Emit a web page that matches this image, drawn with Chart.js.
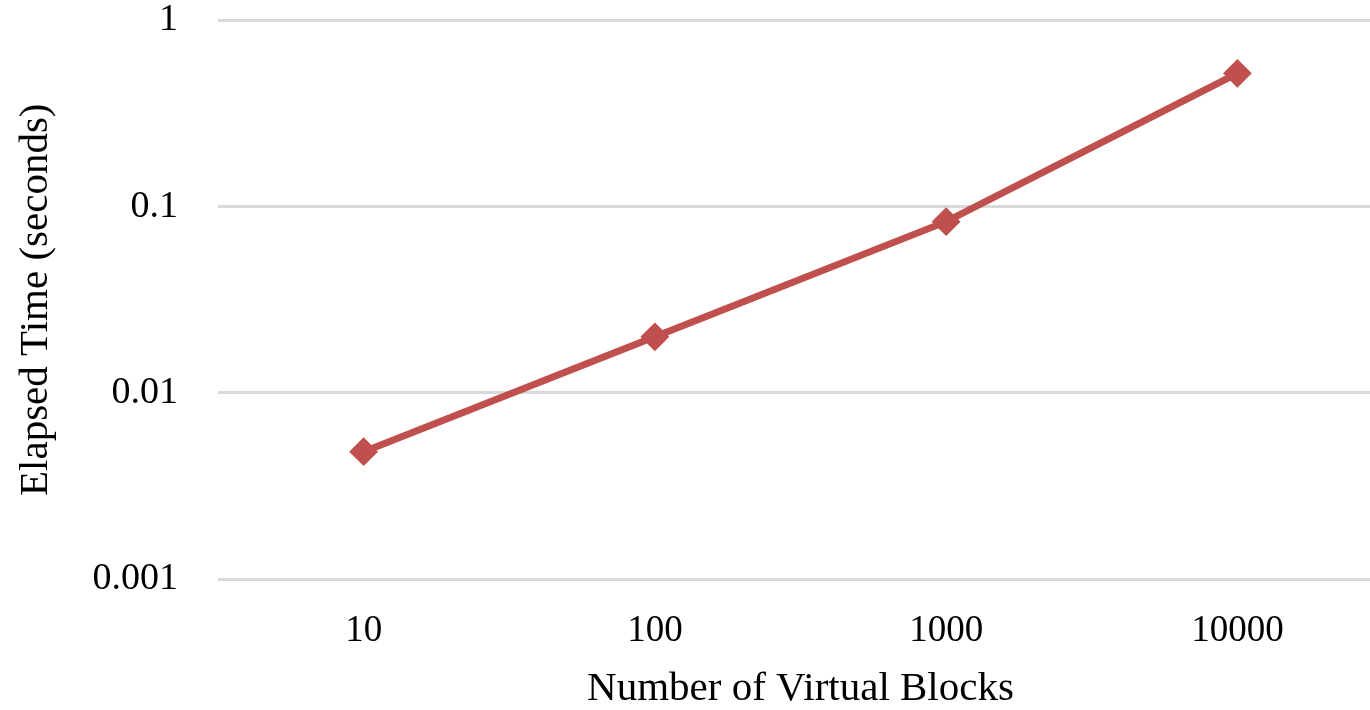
<!DOCTYPE html>
<html>
<head>
  <title>Elapsed Time vs Virtual Blocks</title>
  <script src="https://cdn.jsdelivr.net/npm/chart.js"></script>
  <style>
    html, body { margin: 0; padding: 0; background: #fff; }
    #wrap { width: 1370px; height: 710px; }
  </style>
</head>
<body>
  <div id="wrap"><canvas id="myChart"></canvas></div>
  <script>
    // data
    const blocks = ['10', '100', '1000', '10000'];
    const elapsed = [0.00483, 0.0200, 0.0831, 0.520];
    const yTicks = [0.001, 0.01, 0.1, 1];

    const lineColor = '#C0504D';
    const fontFamily = '"Liberation Serif", "Times New Roman", serif';

    // the original plot runs a little past the right edge of the picture
    const plotTop = 20.5;
    const plotRight = 1383;

    const fixArea = {
      id: 'fixArea',
      afterLayout(chart) {
        const area = chart.chartArea;
        const xs = chart.scales.x;
        const ys = chart.scales.y;
        area.top = plotTop;
        area.right = plotRight;
        area.width = area.right - area.left;
        area.height = area.bottom - area.top;
        xs.right = area.right;
        xs.width = xs.right - xs.left;
        xs.configure();
        ys.top = area.top;
        ys.height = ys.bottom - ys.top;
        ys.configure();
      }
    };

    var ctx = document.getElementById('myChart').getContext('2d');

    var myChart = new Chart(ctx, {
      type: 'line',
      data: {
        labels: blocks,
        datasets: [{
          label: 'Elapsed Time',
          data: elapsed,
          borderColor: lineColor,
          backgroundColor: lineColor,
          borderWidth: 7,
          tension: 0,
          pointStyle: 'rectRot',
          pointRadius: 13,
          pointBorderWidth: 2,
          pointHoverRadius: 13
        }]
      },
      plugins: [fixArea],
      options: {
        responsive: true,
        maintainAspectRatio: false,
        animation: false,
        plugins: {
          legend: { display: false },
          tooltip: { enabled: false }
        },
        scales: {
          x: {
            type: 'category',
            offset: true,
            grid: { display: false, drawTicks: false },
            border: { display: false },
            ticks: {
              color: '#000',
              padding: 30,
              font: { family: fontFamily, size: 37 }
            },
            title: {
              display: true,
              text: 'Number of Virtual Blocks',
              color: '#000',
              padding: 0,
              font: { family: fontFamily, size: 41, lineHeight: 1 }
            },
            afterFit: function(scale) { scale.height = 131; }
          },
          y: {
            type: 'logarithmic',
            min: 0.001,
            max: 1,
            grid: { color: '#d9d9d9', lineWidth: 3, drawTicks: false },
            border: { display: false },
            afterBuildTicks: function(scale) {
              scale.ticks = yTicks.map(v => ({ value: v }));
            },
            ticks: {
              color: '#000',
              padding: 40,
              font: { family: fontFamily, size: 38 },
              callback: function(value) { return String(value); }
            },
            title: {
              display: true,
              text: 'Elapsed Time (seconds)',
              color: '#000',
              padding: { top: 12, bottom: 0 },
              font: { family: fontFamily, size: 41 }
            },
            afterFit: function(scale) { scale.width = 218; }
          }
        }
      }
    });
  </script>
</body>
</html>
